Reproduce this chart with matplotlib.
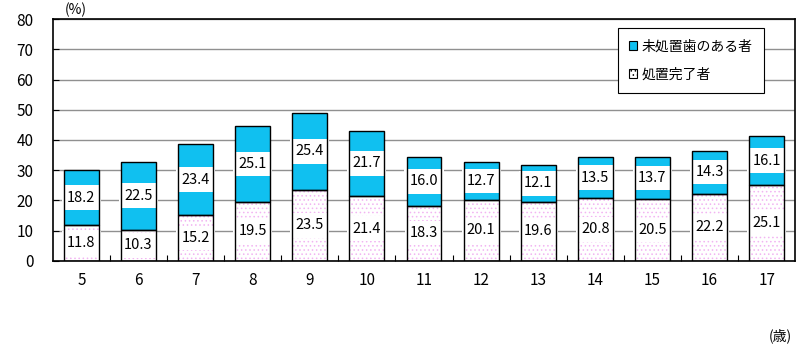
import matplotlib.pyplot as plt
import numpy as np
from matplotlib.patches import Patch

plt.rcParams['font.family'] = ['Noto Sans CJK JP', 'DejaVu Sans']
plt.rcParams['hatch.linewidth'] = 0.6

# ages and percentages
ages = ['5', '6', '7', '8', '9', '10', '11', '12', '13', '14', '15', '16', '17']
treated = [11.8, 10.3, 15.2, 19.5, 23.5, 21.4, 18.3, 20.1, 19.6, 20.8, 20.5, 22.2, 25.1]
untreated = [18.2, 22.5, 23.4, 25.1, 25.4, 21.7, 16.0, 12.7, 12.1, 13.5, 13.7, 14.3, 16.1]

cyan = '#10c0f0'
pink = '#f2b4f2'

fig = plt.figure(figsize=(8, 3.53), dpi=100)
ax = fig.add_axes([0.066, 0.261, 0.928, 0.685])

x = np.arange(len(ages))
w = 0.61

# fills first
ax.bar(x, treated, w, color='white', edgecolor=pink, hatch='....', linewidth=0, zorder=2)
ax.bar(x, untreated, w, bottom=treated, color=cyan, linewidth=0, zorder=2)

box = dict(boxstyle='square,pad=0.36', fc='white', ec='none')
for i in range(len(ages)):
    ax.text(x[i], treated[i] / 2, f'{treated[i]:.1f}', ha='center', va='center', fontsize=10.5,
            zorder=3, bbox=box)
    ax.text(x[i], treated[i] + untreated[i] / 2, f'{untreated[i]:.1f}', ha='center', va='center',
            fontsize=10.5, zorder=3, bbox=box)

# black outlines on top of the label boxes
ax.bar(x, treated, w, fill=False, edgecolor='black', linewidth=1, zorder=4)
ax.bar(x, untreated, w, bottom=treated, fill=False, edgecolor='black', linewidth=1, zorder=4)

ax.set_xlim(-0.5, len(ages) - 0.5)
ax.set_ylim(0, 80)
ax.set_yticks(range(0, 81, 10))
ax.yaxis.grid(True, color='#909090', linewidth=1, zorder=1)
ax.set_axisbelow(True)
ax.tick_params(axis='y', direction='in', length=4, labelsize=11, pad=14)

# ticks between categories, labels at centers
ax.set_xticks(x[:-1] + 0.5)
ax.set_xticklabels([])
ax.set_xticks(x, minor=True)
ax.set_xticklabels(ages, minor=True, fontsize=11)
ax.tick_params(axis='x', which='major', direction='in', length=4)
ax.tick_params(axis='x', which='minor', length=0, pad=8)

for s in ax.spines.values():
    s.set_linewidth(1.2)

fig.text(0.095, 0.972, '(%)', ha='center', va='center', fontsize=10)
fig.text(0.975, 0.05, '(歳)', ha='center', va='center', fontsize=10)

handles = [Patch(facecolor=cyan, edgecolor='black', linewidth=0.8),
           Patch(facecolor='white', edgecolor='black', hatch='....', linewidth=0.8)]
leg = ax.legend(handles, ['未処置歯のある者', '処置完了者'], loc='upper right',
                bbox_to_anchor=(0.967, 0.99), fontsize=10, fancybox=False, framealpha=1,
                edgecolor='black', handlelength=0.6, handleheight=0.6, handletextpad=0.3,
                labelspacing=1.0, borderpad=0.8)
leg.get_frame().set_linewidth(0.8)
leg.set_zorder(6)

fig.savefig('out.png', dpi=100)
